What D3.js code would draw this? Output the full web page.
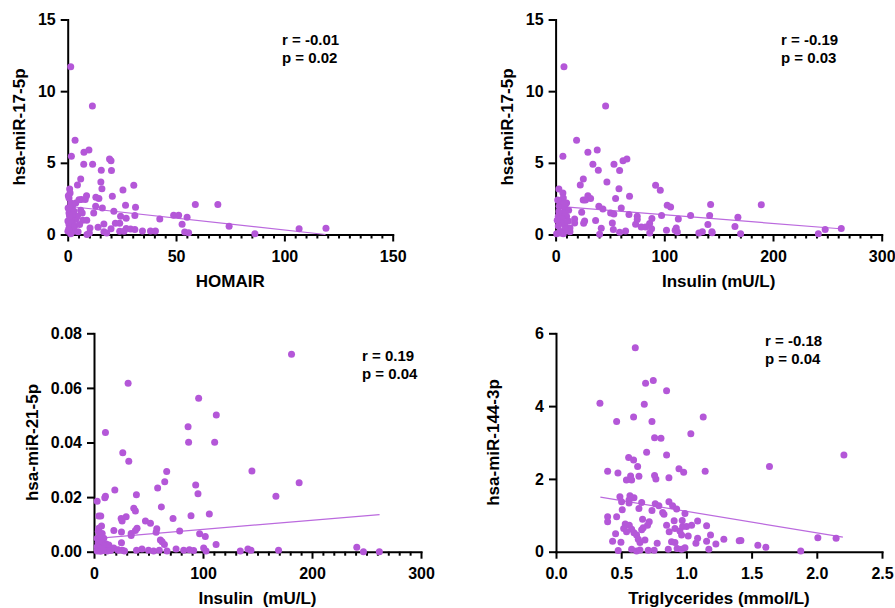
<!DOCTYPE html>
<html>
<head>
<meta charset="utf-8">
<script src="https://cdn.jsdelivr.net/npm/d3@7/dist/d3.min.js"></script>
<style>
  body { margin: 0; background: #ffffff; }
  svg { display: block; }
  text { font-family: "Liberation Sans", Arial, sans-serif; font-weight: bold; fill: #000; }
</style>
</head>
<body>
<svg id="chart" width="895" height="608"></svg>
<script>
// ---------- DATA ----------
// Panel A: hsa-miR-17-5p vs HOMAIR
const homairX = [1.4,11.4,3.4,1.7,7.5,9.8,7.4,11.5,19.3,20,15.5,20.2,6,4.5,15.3,15.8,30.5,25.5,20.6,14.4,8.7,6.3,8.1,26.7,31.3,58.9,69.3,12.9,16,21.3,31,24.4,48.9,51.2,55.1,42.5,27,52.8,74.5,22,24,16.7,14,10.3,27,29,31,34.5,38.2,40.5,54,55.8,8.9,16.7,24,26,7,8.8,6.7,86.4,106.8,119.2,
  0.9,1.1,0.6,1.4,0.2,2.2,3.7,5.2,0.6,2.9,1.4,0.1,3.7,0.6,2.2,0.1,2.9,1.4,4.5,6,2.2,0.3,0.5,1.8,3.2,4.8,0.8,5.5,12,18,20,13,10];
const mir17HomairY = [11.7,8.96,6.57,5.46,5.74,5.9,4.9,4.9,5.26,5.14,4.49,4.47,3.87,3.45,3.66,3.19,3.43,3.1,2.66,2.52,2.7,2.45,2.45,2.04,1.9,2.1,2.1,1.97,1.85,1.62,1.32,1.27,1.34,1.34,1.2,1.09,1.13,0.72,0.58,0.79,0.79,0.74,0.51,0.46,0.42,0.38,0.35,0.25,0.25,0.25,0.17,0.12,0,0.2,0.22,0.22,1.0,1.0,1.5,0.05,0.4,0.44,
  3.17,2.9,2.55,2.2,1.85,1.97,2.2,2.43,1.5,1.62,1.16,0.95,1.04,0.69,0.46,0.23,0.23,0.05,1.27,1.69,1.39,2.7,0.4,0.8,0.6,0.2,1.3,0.7,1.5,0.1,0.4,2.6,0.1];
const fitAX = [0, 119];
const fitAY = [1.97, 0.0];

// Panel B: hsa-miR-17-5p vs Insulin
const insulinBX = [7.7,46,19.3,6.7,29.7,38.3,34.3,53.7,39.3,62,65.6,58.9,25.5,22.7,47.2,58.3,92,96.3,3,6.7,68,55.2,29.7,32.2,25.4,27.5,102.7,105.8,142.6,39.8,43.5,60.4,50.6,53.6,24,67.5,97.5,124.2,141.7,75.1,112.9,88.6,17.5,17.5,26.7,25.8,36.8,52.2,73.6,75.1,86.5,140.1,42,53.1,78.8,82.8,88.3,102,110,111,64.4,58.9,112,131.8,135,143.8,40.5,86.6,189.2,167.7,165,170.2,144,241.7,248,262.8,
  7.1,4,10.1,3.4,8.6,7.1,2.5,10.1,5.6,11.7,2.5,8.6,4,10.1,13.2,7.1,1,13.2,3,6,9,5,12,2,4.5,8,1.5];
const mir17InsulinY = [11.7,8.96,6.57,5.46,5.74,5.9,4.9,4.9,4.49,5.14,5.26,4.47,3.87,3.45,3.66,3.19,3.43,3.08,3.17,2.9,2.66,2.52,2.7,2.52,2.4,2.4,2.04,1.92,2.1,1.97,1.78,1.85,1.5,1.43,1.55,1.39,1.32,1.32,1.32,1.27,1.09,1.11,1.09,0.81,0.95,0.79,0.97,0.81,0.72,1.04,0.76,0.69,0.44,0.35,0.52,0.52,0.4,0.3,0.3,0.45,0.25,0.15,0.18,0.1,0.2,0.2,0.02,0.1,2.08,1.2,0.56,0.05,0.12,0.05,0.35,0.42,
  2.55,2.2,2.2,1.97,1.85,1.5,1.27,1.27,0.95,0.95,0.6,0.67,0.23,0.3,0.2,0.05,0.05,0.46,1.6,1.1,0.4,0.8,1.7,2.4,0.1,2.2,1.0];
const fitBX = [0, 262];
const fitBY = [1.98, 0.4];

// Panel C: hsa-miR-21-5p vs Insulin
const insulinCX = [31.3,96,112.2,86.3,86.8,110.7,10.5,26.4,31.9,144.9,66.7,64.9,58.4,93.3,95.4,19.1,38.9,10.5,9.9,2.9,36.5,38,61.8,4.4,6.2,24.9,25.8,29.5,72.5,89,105.8,47.2,51.8,6.9,39.5,38,25.2,18.2,57.6,57,78.6,96.9,102.1,34.1,34.1,25.2,60.9,62.5,64.6,112,75.3,44,39,50,54.7,59.9,67,82.3,87.5,91.4,100.6,102.8,134.2,141.2,26,28,22,181.2,188.2,166.9,169.3,241.1,247.2,261.8,144,
  4.4,7.5,2.9,6,9,3.8,7.5,11.2,13.6,2.9,6.9,9.9,12.9,2.9,6,9,12,15.2,18.1,22.2,5,4,8];
const mir21InsulinY = [0.0617,0.0562,0.0501,0.0458,0.0401,0.0401,0.0437,0.0362,0.0331,0.0296,0.0294,0.0256,0.0233,0.0244,0.0212,0.0226,0.0209,0.0203,0.0198,0.0185,0.0159,0.0149,0.0164,0.0131,0.0131,0.0122,0.0112,0.0128,0.0122,0.0132,0.0138,0.0112,0.0104,0.0094,0.0086,0.0078,0.0072,0.0078,0.0084,0.0071,0.0076,0.0066,0.0056,0.0067,0.0059,0.0033,0.0043,0.0036,0.0026,0.0026,0.001,0.001,0.0005,0.0005,0.0003,0.0005,0.0003,0.0005,0.0007,0.0004,0.0014,0.0003,0.0003,0.001,0.0005,0.0003,0.0007,0.0723,0.0253,0.0203,0.0005,0.0016,0.0,0.0,0.0005,
  0.0086,0.0067,0.0049,0.0045,0.0049,0.0033,0.0031,0.0028,0.0025,0.0018,0.0014,0.002,0.0014,0.0003,0.0002,0.0004,0.0003,0.0004,0.0014,0.0005,0.0058,0.0075,0.001];
const fitCX = [3, 262];
const fitCY = [0.0049, 0.0136];

// Panel D: hsa-miR-144-3p vs Triglycerides
const tgX = [0.608,0.687,0.746,0.848,0.337,0.677,0.465,0.595,0.736,1.129,1.034,0.756,0.805,0.695,0.848,0.557,0.595,0.626,0.396,0.475,0.943,0.979,1.144,0.572,0.636,0.756,0.766,0.866,0.54,0.58,0.49,0.503,0.567,0.598,0.56,0.56,0.657,0.636,0.866,0.761,0.789,0.894,0.925,0.736,0.508,0.818,0.828,0.989,0.396,0.396,0.465,0.664,0.715,0.702,0.906,0.968,1.086,0.531,0.562,0.519,0.541,0.58,0.598,0.618,0.657,0.669,0.848,0.868,0.912,0.95,0.971,1.001,1.04,0.963,1.014,0.457,0.434,0.498,0.477,0.631,0.644,0.682,0.58,0.618,0.644,0.707,0.753,0.776,0.861,0.886,0.912,0.929,0.963,0.989,1.073,1.086,1.155,1.185,1.155,1.172,1.226,1.287,1.405,1.637,2.208,1.418,1.548,1.609,1.877,2.008,2.148];
const mir144TgY = [5.6,4.63,4.70,4.42,4.08,4.05,3.58,3.7,3.58,3.7,3.24,3.13,3.12,2.73,2.66,2.59,2.52,2.34,2.21,2.16,2.28,2.18,2.21,2.08,2.07,2.09,2.0,2.03,1.97,1.97,1.51,1.37,1.54,1.48,1.34,1.42,1.35,1.19,1.37,1.32,1.26,1.26,1.17,1.13,1.15,1.08,1.03,1.05,0.96,0.82,0.96,0.89,0.82,0.73,0.85,0.86,0.84,0.76,0.73,0.64,0.55,0.62,0.52,0.46,0.6,0.66,0.73,0.55,0.64,0.57,0.69,0.69,0.73,0.46,0.43,0.49,0.29,0.26,0.03,0.34,0.25,0.32,0.07,0.02,0.05,0.04,0.04,0.23,0.07,0.27,0.25,0.09,0.07,0.11,0.23,0.37,0.71,0.46,0.29,0.07,0.21,0.34,0.3,2.34,2.66,0.31,0.18,0.12,0.02,0.38,0.37];
const fitDX = [0.34, 2.2];
const fitDY = [1.50, 0.40];

// Tick values
const ticksAX = [0, 50, 100, 150];
const ticksBX = [0, 100, 200, 300];
const ticksCX = [0, 100, 200, 300];
const ticksDX = [0, 0.5, 1.0, 1.5, 2.0, 2.5];
const ticksMir17 = [0, 5, 10, 15];
const ticksMir21 = [0, 0.02, 0.04, 0.06, 0.08];
const ticksMir144 = [0, 2, 4, 6];

// Text
const xTitles = ["HOMAIR", "Insulin (mU/L)", "Insulin  (mU/L)", "Triglycerides (mmol/L)"];
const yTitles = ["hsa-miR-17-5p", "hsa-miR-17-5p", "hsa-miR-21-5p", "hsa-miR-144-3p"];
const statsR = ["r = -0.01", "r = -0.19", "r = 0.19", "r = -0.18"];
const statsP = ["p = 0.02", "p = 0.03", "p = 0.04", "p = 0.04"];

// ---------- RENDER ----------
const DOT = "#b457d8";
const LINE = "#bb6ade";
const svg = d3.select("#chart");
svg.append("rect").attr("width", 895).attr("height", 608).attr("fill", "#fff");

const panels = [
  { xs: homairX, ys: mir17HomairY, xd: [0,150], yd: [0,15], xt: ticksAX, yt: ticksMir17, minor: 5,
    xf: d3.format("d"), yf: d3.format("d"), box: {l: 67.7, r: 392.7, t: 19.5, b: 234.5},
    fx: fitAX, fy: fitAY, ann: [282, 45], yOff: 43 },
  { xs: insulinBX, ys: mir17InsulinY, xd: [0,300], yd: [0,15], xt: ticksBX, yt: ticksMir17, minor: 10,
    xf: d3.format("d"), yf: d3.format("d"), box: {l: 555.6, r: 881.7, t: 19.5, b: 234.5},
    fx: fitBX, fy: fitBY, ann: [781, 45], yOff: 43 },
  { xs: insulinCX, ys: mir21InsulinY, xd: [0,300], yd: [0,0.08], xt: ticksCX, yt: ticksMir21, minor: 10,
    xf: d3.format("d"), yf: d3.format(".2f"), box: {l: 94, r: 421, t: 333.3, b: 551.7},
    fx: fitCX, fy: fitCY, ann: [362, 361], yOff: 56 },
  { xs: tgX, ys: mir144TgY, xd: [0,2.5], yd: [0,6], xt: ticksDX, yt: ticksMir144, minor: 0,
    xf: d3.format(".1f"), yf: d3.format("d"), box: {l: 556, r: 882, t: 333.3, b: 551.7},
    fx: fitDX, fy: fitDY, ann: [765, 346], yOff: 57 }
];

panels.forEach((p, i) => {
  const g = svg.append("g");
  const x = d3.scaleLinear().domain(p.xd).range([p.box.l, p.box.r]);
  const y = d3.scaleLinear().domain(p.yd).range([p.box.b, p.box.t]);

  // minor ticks on x
  if (p.minor) {
    const minorVals = d3.range(p.xd[0], p.xd[1] + p.minor / 2, p.minor)
      .filter(v => !p.xt.some(t => Math.abs(t - v) < 1e-9));
    const mg = g.append("g").attr("transform", `translate(0,${p.box.b})`)
      .call(d3.axisBottom(x).tickValues(minorVals).tickSize(4).tickSizeOuter(0).tickFormat(""));
    mg.select(".domain").remove();
    mg.selectAll("line").attr("stroke", "#000").attr("stroke-width", 2);
  }

  // x axis
  const xg = g.append("g").attr("transform", `translate(0,${p.box.b})`)
    .call(d3.axisBottom(x).tickValues(p.xt).tickFormat(p.xf).tickSize(7).tickSizeOuter(0).tickPadding(9));
  // y axis
  const yg = g.append("g").attr("transform", `translate(${p.box.l},0)`)
    .call(d3.axisLeft(y).tickValues(p.yt).tickFormat(p.yf).tickSize(7).tickSizeOuter(0).tickPadding(5));
  [xg, yg].forEach(a => {
    a.select(".domain").attr("stroke", "#000").attr("stroke-width", 2).attr("stroke-linecap", "square");
    a.selectAll(".tick line").attr("stroke", "#000").attr("stroke-width", 2);
    a.selectAll(".tick text").attr("font-size", 16).attr("font-weight", "bold")
      .attr("font-family", '"Liberation Sans", Arial, sans-serif').attr("fill", "#000");
  });

  // regression line
  const lineData = p.fx.map((v, k) => [v, p.fy[k]]);
  g.append("path").datum(lineData)
    .attr("d", d3.line().x(d => x(d[0])).y(d => y(d[1])))
    .attr("fill", "none").attr("stroke", LINE).attr("stroke-width", 1.2);

  // points
  g.append("g").selectAll("circle").data(p.xs.map((v, k) => [v, p.ys[k]])).join("circle")
    .attr("cx", d => x(d[0])).attr("cy", d => y(d[1])).attr("r", 3.5).attr("fill", DOT);

  // titles
  g.append("text").attr("x", (p.box.l + p.box.r) / 2).attr("y", p.box.b + 52)
    .attr("text-anchor", "middle").attr("font-size", 17).style("white-space", "pre")
    .attr("xml:space", "preserve").text(xTitles[i]);
  g.append("text")
    .attr("transform", `translate(${p.box.l - p.yOff},${(p.box.t + p.box.b) / 2}) rotate(-90)`)
    .attr("text-anchor", "middle").attr("font-size", 17).text(yTitles[i]);

  // stats
  g.append("text").attr("x", p.ann[0]).attr("y", p.ann[1]).attr("font-size", 15).text(statsR[i]);
  g.append("text").attr("x", p.ann[0]).attr("y", p.ann[1] + 17.5).attr("font-size", 15).text(statsP[i]);
});
</script>
</body>
</html>
